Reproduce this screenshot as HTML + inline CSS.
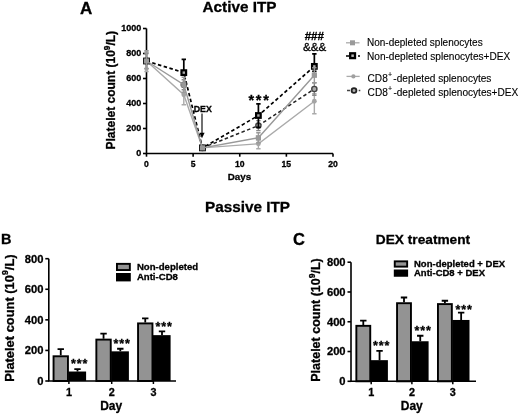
<!DOCTYPE html>
<html><head><meta charset="utf-8"><style>
html,body{margin:0;padding:0;background:#fff;}
svg{display:block;}
text{font-family:"Liberation Sans", sans-serif;fill:#000;stroke:#000;stroke-width:0.3px;}
svg{filter:grayscale(1) blur(0.3px);}
.reg text, text.reg{stroke-width:0.12px;}
</style></head><body>
<svg width="520" height="415" viewBox="0 0 520 415">
<rect width="520" height="415" fill="#fff"/>
<text x="80" y="13.6" font-size="17" font-weight="bold">A</text>
<text x="239.5" y="12" font-size="15.3" font-weight="bold" text-anchor="middle">Active ITP</text>
<path d="M146.5 28.5 V153.5 H333.0" stroke="#000" stroke-width="1.6" fill="none"/>
<path d="M143.0 153.5 H146.5" stroke="#000" stroke-width="1.6"/>
<text x="141.2" y="155.6" font-size="9" font-weight="bold" text-anchor="end">0</text>
<path d="M143.0 128.5 H146.5" stroke="#000" stroke-width="1.6"/>
<text x="141.2" y="130.6" font-size="9" font-weight="bold" text-anchor="end">200</text>
<path d="M143.0 103.5 H146.5" stroke="#000" stroke-width="1.6"/>
<text x="141.2" y="105.6" font-size="9" font-weight="bold" text-anchor="end">400</text>
<path d="M143.0 78.5 H146.5" stroke="#000" stroke-width="1.6"/>
<text x="141.2" y="80.6" font-size="9" font-weight="bold" text-anchor="end">600</text>
<path d="M143.0 53.5 H146.5" stroke="#000" stroke-width="1.6"/>
<text x="141.2" y="55.6" font-size="9" font-weight="bold" text-anchor="end">800</text>
<path d="M143.0 28.5 H146.5" stroke="#000" stroke-width="1.6"/>
<text x="141.2" y="30.6" font-size="9" font-weight="bold" text-anchor="end">1000</text>
<path d="M146.5 153.5 V156.7" stroke="#000" stroke-width="1.6"/>
<text x="146.5" y="166.8" font-size="8.6" font-weight="bold" text-anchor="middle">0</text>
<path d="M193.125 153.5 V156.7" stroke="#000" stroke-width="1.6"/>
<text x="193.125" y="166.8" font-size="8.6" font-weight="bold" text-anchor="middle">5</text>
<path d="M239.75 153.5 V156.7" stroke="#000" stroke-width="1.6"/>
<text x="239.75" y="166.8" font-size="8.6" font-weight="bold" text-anchor="middle">10</text>
<path d="M286.375 153.5 V156.7" stroke="#000" stroke-width="1.6"/>
<text x="286.375" y="166.8" font-size="8.6" font-weight="bold" text-anchor="middle">15</text>
<path d="M333.0 153.5 V156.7" stroke="#000" stroke-width="1.6"/>
<text x="333.0" y="166.8" font-size="8.6" font-weight="bold" text-anchor="middle">20</text>
<text x="239.5" y="180.2" font-size="9.8" font-weight="bold" text-anchor="middle">Days</text>
<text transform="translate(114.8 90.2) rotate(-90)" font-size="12" font-weight="bold" text-anchor="middle">Platelet count (10<tspan font-size="8.2" dy="-5.2">9</tspan><tspan dy="5.2">/L)</tspan></text>
<path d="M146.50 52.25 V71.50 M144.30 52.25 h4.4 M144.30 71.50 h4.4" stroke="#aaa" stroke-width="1.4" fill="none"/><path d="M183.80 84.75 V104.75 M181.60 84.75 h4.4 M181.60 104.75 h4.4" stroke="#aaa" stroke-width="1.4" fill="none"/><path d="M202.45 146.62 V149.12 M200.25 146.62 h4.4 M200.25 149.12 h4.4" stroke="#aaa" stroke-width="1.4" fill="none"/><path d="M258.40 140.00 V148.75 M256.20 140.00 h4.4 M256.20 148.75 h4.4" stroke="#aaa" stroke-width="1.4" fill="none"/><path d="M314.35 93.75 V113.75 M312.15 93.75 h4.4 M312.15 113.75 h4.4" stroke="#aaa" stroke-width="1.4" fill="none"/>
<polyline points="146.50,61.00 183.80,94.75 202.45,147.88 258.40,143.75 314.35,101.25" fill="none" stroke="#aaa" stroke-width="1.4"/>
<circle cx="146.50" cy="61.00" r="2.4" fill="#a4a4a4"/>
<circle cx="183.80" cy="94.75" r="2.4" fill="#a4a4a4"/>
<circle cx="202.45" cy="147.88" r="2.4" fill="#a4a4a4"/>
<circle cx="258.40" cy="143.75" r="2.4" fill="#a4a4a4"/>
<circle cx="314.35" cy="101.25" r="2.4" fill="#a4a4a4"/>
<path d="M146.50 53.50 V68.50 M144.30 53.50 h4.4 M144.30 68.50 h4.4" stroke="#8a8a8a" stroke-width="1.4" fill="none"/><path d="M183.80 79.75 V89.75 M181.60 79.75 h4.4 M181.60 89.75 h4.4" stroke="#8a8a8a" stroke-width="1.4" fill="none"/><path d="M202.45 146.62 V149.12 M200.25 146.62 h4.4 M200.25 149.12 h4.4" stroke="#8a8a8a" stroke-width="1.4" fill="none"/><path d="M258.40 120.62 V130.62 M256.20 120.62 h4.4 M256.20 130.62 h4.4" stroke="#8a8a8a" stroke-width="1.4" fill="none"/><path d="M314.35 82.75 V95.25 M312.15 82.75 h4.4 M312.15 95.25 h4.4" stroke="#8a8a8a" stroke-width="1.4" fill="none"/>
<polyline points="202.45,147.88 258.40,125.62 314.35,89.00" fill="none" stroke="#222" stroke-width="1.5" stroke-dasharray="3.5 2.5"/>
<circle cx="146.50" cy="61.00" r="2.6" fill="#aaa" stroke="#444" stroke-width="1.4"/>
<circle cx="183.80" cy="84.75" r="2.6" fill="#aaa" stroke="#444" stroke-width="1.4"/>
<circle cx="202.45" cy="147.88" r="2.6" fill="#aaa" stroke="#444" stroke-width="1.4"/>
<circle cx="258.40" cy="125.62" r="2.6" fill="#aaa" stroke="#444" stroke-width="1.4"/>
<circle cx="314.35" cy="89.00" r="2.6" fill="#aaa" stroke="#444" stroke-width="1.4"/>
<path d="M146.50 59.75 V62.25 M144.30 59.75 h4.4 M144.30 62.25 h4.4" stroke="#000" stroke-width="1.7" fill="none"/><path d="M183.80 59.38 V75.12 M181.60 59.38 h4.4 M181.60 75.12 h4.4" stroke="#000" stroke-width="1.7" fill="none"/><path d="M202.45 146.62 V149.12 M200.25 146.62 h4.4 M200.25 149.12 h4.4" stroke="#000" stroke-width="1.7" fill="none"/><path d="M258.40 103.88 V127.38 M256.20 103.88 h4.4 M256.20 127.38 h4.4" stroke="#000" stroke-width="1.7" fill="none"/><path d="M314.35 53.88 V71.38 M312.15 53.88 h4.4 M312.15 71.38 h4.4" stroke="#000" stroke-width="1.7" fill="none"/>
<polyline points="146.50,61.00 183.80,72.62 202.45,147.88 258.40,115.50 314.35,66.38" fill="none" stroke="#000" stroke-width="1.7" stroke-dasharray="3.5 2.5"/>
<rect x="144.20" y="58.70" width="4.6" height="4.6" fill="#aaa" stroke="#000" stroke-width="2.2"/>
<rect x="181.50" y="70.33" width="4.6" height="4.6" fill="#aaa" stroke="#000" stroke-width="2.2"/>
<rect x="200.15" y="145.57" width="4.6" height="4.6" fill="#aaa" stroke="#000" stroke-width="2.2"/>
<rect x="256.10" y="113.20" width="4.6" height="4.6" fill="#aaa" stroke="#000" stroke-width="2.2"/>
<rect x="312.05" y="64.08" width="4.6" height="4.6" fill="#aaa" stroke="#000" stroke-width="2.2"/>
<path d="M146.50 50.75 V68.75 M144.30 50.75 h4.4 M144.30 68.75 h4.4" stroke="#999" stroke-width="1.4" fill="none"/><path d="M183.80 77.25 V92.25 M181.60 77.25 h4.4 M181.60 92.25 h4.4" stroke="#999" stroke-width="1.4" fill="none"/><path d="M202.45 146.62 V149.12 M200.25 146.62 h4.4 M200.25 149.12 h4.4" stroke="#999" stroke-width="1.4" fill="none"/><path d="M258.40 132.75 V142.75 M256.20 132.75 h4.4 M256.20 142.75 h4.4" stroke="#999" stroke-width="1.4" fill="none"/><path d="M314.35 67.75 V82.75 M312.15 67.75 h4.4 M312.15 82.75 h4.4" stroke="#999" stroke-width="1.4" fill="none"/>
<polyline points="146.50,61.00 183.80,84.75 202.45,147.88 258.40,137.75 314.35,75.25" fill="none" stroke="#999" stroke-width="1.4"/>
<rect x="143.90" y="58.40" width="5.2" height="5.2" fill="#999"/>
<rect x="181.20" y="82.15" width="5.2" height="5.2" fill="#999"/>
<rect x="199.85" y="145.28" width="5.2" height="5.2" fill="#999"/>
<rect x="255.80" y="135.15" width="5.2" height="5.2" fill="#999"/>
<rect x="311.75" y="72.65" width="5.2" height="5.2" fill="#999"/>
<text x="202.8" y="112.3" font-size="8.8" font-weight="bold" text-anchor="middle">DEX</text>
<path d="M202 113.5 V134" stroke="#111" stroke-width="1.2"/>
<path d="M199.4 132.8 L204.6 132.8 L202 138.2 Z" fill="#000"/>
<text x="248.4" y="104.5" font-size="14.5" font-weight="bold" letter-spacing="1.76">***</text>
<text x="314.3" y="40.3" font-size="11.6" font-weight="bold" text-anchor="middle">###</text>
<text x="314.6" y="50.8" font-size="11.6" text-anchor="middle">&amp;&amp;&amp;</text>
<g font-size="10" class="reg">
<path d="M346 42.8 H359.5" stroke="#aaa" stroke-width="1.3"/><rect x="350" y="40.3" width="5" height="5" fill="#9a9a9a"/>
<text x="367" y="46.4">Non-depleted splenocytes</text>
<path d="M346 56 H349.5 M358 56 H360" stroke="#000" stroke-width="1.5"/><rect x="350.2" y="53.3" width="4.8" height="4.8" fill="#b8b8b8" stroke="#000" stroke-width="2.3"/>
<text x="367" y="59.6" font-size="10.08">Non-depleted splenocytes+DEX</text>
<path d="M346.5 76.4 H359.7" stroke="#aaa" stroke-width="1.3"/><circle cx="353.4" cy="76.4" r="2.1" fill="#a0a0a0"/>
<text x="367.6" y="81.6" font-size="10.08">CD8<tspan font-size="7" dy="-4.6" dx="0.3">+</tspan><tspan dy="4.6" dx="1.2">-depleted splenocytes</tspan></text>
<path d="M347 90.5 H350 M358.7 90.5 H360.3" stroke="#444" stroke-width="1.5"/><circle cx="354" cy="90.5" r="2.4" fill="#b0b0b0" stroke="#222" stroke-width="1.8"/>
<text x="367.6" y="95.9" font-size="10.1">CD8<tspan font-size="7" dy="-4.6" dx="0.3">+</tspan><tspan dy="4.6" dx="1.2">-depleted splenocytes+DEX</tspan></text>
</g>
<text x="247.5" y="212.2" font-size="15.3" font-weight="bold" text-anchor="middle">Passive ITP</text>
<text x="1" y="243.5" font-size="14.5" font-weight="bold">B</text><rect x="53.55" y="356.27" width="14.40" height="24.73" fill="#939393" stroke="#000" stroke-width="1.9"/><rect x="68.30" y="371.52" width="17.80" height="9.48" fill="#000"/><path d="M60.75 355.32 V349.05 M57.55 349.05 h6.4" stroke="#000" stroke-width="1.8"/><path d="M77.50 371.52 V369.08 M74.30 369.08 h6.4" stroke="#000" stroke-width="1.8"/><text x="71.00" y="368.20" font-size="12.5" font-weight="bold" letter-spacing="0.9">***</text><text x="68.90" y="396.3" font-size="10.8" font-weight="bold" text-anchor="middle">1</text><path d="M68.90 381 V384" stroke="#000" stroke-width="1.5"/><rect x="96.35" y="339.60" width="14.40" height="41.40" fill="#939393" stroke="#000" stroke-width="1.9"/><rect x="111.10" y="351.34" width="17.80" height="29.66" fill="#000"/><path d="M103.55 338.65 V333.61 M100.35 333.61 h6.4" stroke="#000" stroke-width="1.8"/><path d="M120.30 351.34 V348.74 M117.10 348.74 h6.4" stroke="#000" stroke-width="1.8"/><text x="113.40" y="348.10" font-size="12.5" font-weight="bold" letter-spacing="0.9">***</text><text x="111.70" y="396.3" font-size="10.8" font-weight="bold" text-anchor="middle">2</text><path d="M111.70 381 V384" stroke="#000" stroke-width="1.5"/><rect x="138.05" y="323.40" width="14.40" height="57.60" fill="#939393" stroke="#000" stroke-width="1.9"/><rect x="152.80" y="335.14" width="17.80" height="45.86" fill="#000"/><path d="M145.25 322.45 V318.47 M142.05 318.47 h6.4" stroke="#000" stroke-width="1.8"/><path d="M162.00 335.14 V331.47 M158.80 331.47 h6.4" stroke="#000" stroke-width="1.8"/><text x="155.40" y="331.20" font-size="12.5" font-weight="bold" letter-spacing="0.9">***</text><text x="153.40" y="396.3" font-size="10.8" font-weight="bold" text-anchor="middle">3</text><path d="M153.40 381 V384" stroke="#000" stroke-width="1.5"/><path d="M48.8 258.7 V381 H176" stroke="#000" stroke-width="1.6" fill="none"/><path d="M45.3 381.00 H48.8" stroke="#000" stroke-width="1.6"/><text x="43.4" y="384.90" font-size="11.2" font-weight="bold" text-anchor="end">0</text><path d="M45.3 350.43 H48.8" stroke="#000" stroke-width="1.6"/><text x="43.4" y="354.32" font-size="11.2" font-weight="bold" text-anchor="end">200</text><path d="M45.3 319.85 H48.8" stroke="#000" stroke-width="1.6"/><text x="43.4" y="323.75" font-size="11.2" font-weight="bold" text-anchor="end">400</text><path d="M45.3 289.27 H48.8" stroke="#000" stroke-width="1.6"/><text x="43.4" y="293.17" font-size="11.2" font-weight="bold" text-anchor="end">600</text><path d="M45.3 258.70 H48.8" stroke="#000" stroke-width="1.6"/><text x="43.4" y="262.60" font-size="11.2" font-weight="bold" text-anchor="end">800</text><text x="111.2" y="410" font-size="12" font-weight="bold" text-anchor="middle">Day</text><text transform="translate(14.2 318.1) rotate(-90)" font-size="12.9" font-weight="bold" text-anchor="middle">Platelet count (10<tspan font-size="8.8" dy="-5.8">9</tspan><tspan dy="5.8">/L)</tspan></text><rect x="116.95" y="263.85" width="12.9" height="6.2" fill="#939393" stroke="#000" stroke-width="1.9"/><rect x="116" y="273" width="14.8" height="8.4" fill="#000"/><text x="136.9" y="270.3" font-size="9.6" font-weight="bold">Non-depleted</text><text x="136.9" y="280" font-size="9.6" font-weight="bold">Anti-CD8</text>
<text x="293" y="244.6" font-size="16.5" font-weight="bold">C</text><text x="423" y="244" font-size="13.7" font-weight="bold" text-anchor="middle">DEX treatment</text><rect x="356.35" y="325.83" width="13.90" height="55.47" fill="#939393" stroke="#000" stroke-width="1.9"/><rect x="370.60" y="360.16" width="17.30" height="21.14" fill="#000"/><path d="M363.30 324.88 V320.56 M360.10 320.56 h6.4" stroke="#000" stroke-width="1.8"/><path d="M379.55 360.16 V350.93 M376.35 350.93 h6.4" stroke="#000" stroke-width="1.8"/><text x="373.10" y="350.40" font-size="12.5" font-weight="bold" letter-spacing="0.9">***</text><text x="371.20" y="396.3" font-size="10.8" font-weight="bold" text-anchor="middle">1</text><path d="M371.20 381.3 V384.3" stroke="#000" stroke-width="1.5"/><rect x="397.05" y="303.20" width="13.90" height="78.10" fill="#939393" stroke="#000" stroke-width="1.9"/><rect x="411.30" y="341.25" width="17.30" height="40.05" fill="#000"/><path d="M404.00 302.25 V297.48 M400.80 297.48 h6.4" stroke="#000" stroke-width="1.8"/><path d="M420.25 341.25 V335.74 M417.05 335.74 h6.4" stroke="#000" stroke-width="1.8"/><text x="414.40" y="335.40" font-size="12.5" font-weight="bold" letter-spacing="0.9">***</text><text x="411.90" y="396.3" font-size="10.8" font-weight="bold" text-anchor="middle">2</text><path d="M411.90 381.3 V384.3" stroke="#000" stroke-width="1.5"/><rect x="437.95" y="304.09" width="13.90" height="77.21" fill="#939393" stroke="#000" stroke-width="1.9"/><rect x="452.20" y="319.96" width="17.30" height="61.34" fill="#000"/><path d="M444.90 303.14 V300.76 M441.70 300.76 h6.4" stroke="#000" stroke-width="1.8"/><path d="M461.15 319.96 V312.67 M457.95 312.67 h6.4" stroke="#000" stroke-width="1.8"/><text x="455.40" y="313.60" font-size="12.5" font-weight="bold" letter-spacing="0.9">***</text><text x="452.80" y="396.3" font-size="10.8" font-weight="bold" text-anchor="middle">3</text><path d="M452.80 381.3 V384.3" stroke="#000" stroke-width="1.5"/><path d="M351 262.2 V381.3 H476" stroke="#000" stroke-width="1.6" fill="none"/><path d="M347.5 381.30 H351" stroke="#000" stroke-width="1.6"/><text x="345.6" y="385.20" font-size="11.2" font-weight="bold" text-anchor="end">0</text><path d="M347.5 351.52 H351" stroke="#000" stroke-width="1.6"/><text x="345.6" y="355.42" font-size="11.2" font-weight="bold" text-anchor="end">200</text><path d="M347.5 321.75 H351" stroke="#000" stroke-width="1.6"/><text x="345.6" y="325.65" font-size="11.2" font-weight="bold" text-anchor="end">400</text><path d="M347.5 291.98 H351" stroke="#000" stroke-width="1.6"/><text x="345.6" y="295.88" font-size="11.2" font-weight="bold" text-anchor="end">600</text><path d="M347.5 262.20 H351" stroke="#000" stroke-width="1.6"/><text x="345.6" y="266.10" font-size="11.2" font-weight="bold" text-anchor="end">800</text><text x="411.8" y="410" font-size="12" font-weight="bold" text-anchor="middle">Day</text><text transform="translate(320.2 320) rotate(-90)" font-size="12.5" font-weight="bold" text-anchor="middle">Platelet count (10<tspan font-size="8.5" dy="-5.6">9</tspan><tspan dy="5.6">/L)</tspan></text><rect x="394.75" y="261.35" width="12.4" height="5.3" fill="#939393" stroke="#000" stroke-width="1.9"/><rect x="393.8" y="269.5" width="14.3" height="7.25" fill="#000"/><text x="414" y="267.2" font-size="9.5" font-weight="bold">Non-depleted + DEX</text><text x="414" y="276.4" font-size="9.5" font-weight="bold">Anti-CD8 + DEX</text>
</svg>
</body></html>
